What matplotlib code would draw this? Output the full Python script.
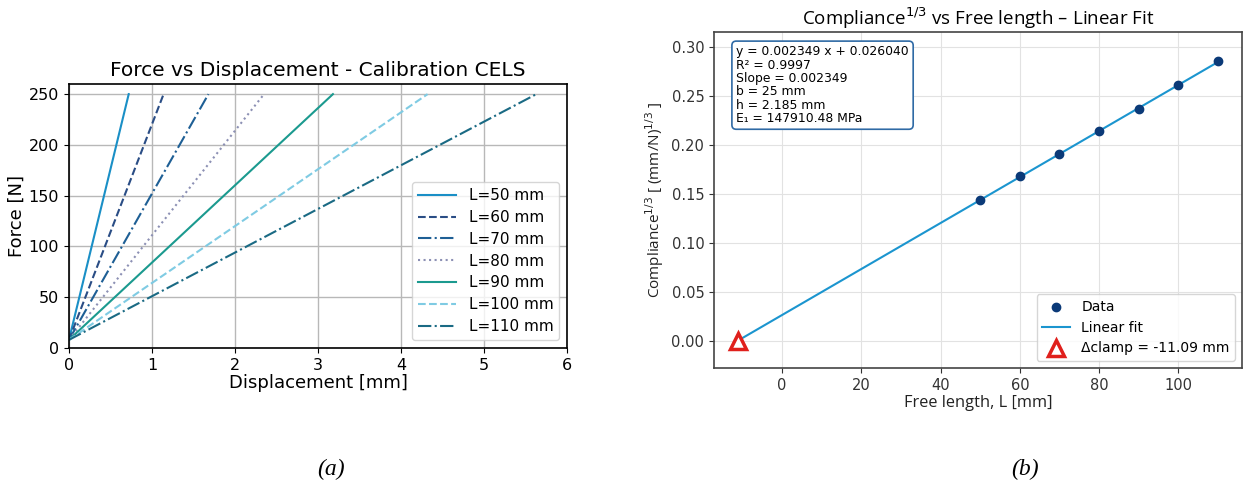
import numpy as np
import matplotlib
matplotlib.use("Agg")
import matplotlib.pyplot as plt

# --- panel (a): force vs displacement, one line per free length ---
lengths = [50, 60, 70, 80, 90, 100, 110]
disp_start = [0.0, 0.0, 0.0, 0.0, 0.0, 0.0, 0.0]
disp_end = [0.72, 1.14, 1.68, 2.35, 3.18, 4.32, 5.63]
force_start = [8, 8, 8, 8, 8, 8, 8]
force_end = [250, 250, 250, 250, 250, 250, 250]
line_colors = ['#1a8fc6', '#2a4d85', '#1e5f95', '#8c90b4', '#1b9a8f', '#7fcbe3', '#1a6a84']
line_styles = ['-', '--', '-.', ':', '-', '--', '-.']

# --- panel (b): compliance^(1/3) vs free length ---
free_length = [50, 60, 70, 80, 90, 100, 110]
compliance_cbrt = [0.1437, 0.1675, 0.1908, 0.2135, 0.2368, 0.2612, 0.2852]
fit_x = [-11.09, 110]
fit_y = [0.0, 0.2844]
clamp_x = [-11.09]
clamp_y = [0.0]
fit_text = ("y = 0.002349 x + 0.026040\n"
            "R\u00b2 = 0.9997\n"
            "Slope = 0.002349\n"
            "b = 25 mm\n"
            "h = 2.185 mm\n"
            "E\u2081 = 147910.48 MPa")

fig = plt.figure(figsize=(12.49, 4.90), dpi=100)

# Panel (a)
ax1 = fig.add_axes([0.0552, 0.2898, 0.3988, 0.5388])
for i, L in enumerate(lengths):
    ax1.plot([disp_start[i], disp_end[i]], [force_start[i], force_end[i]],
             color=line_colors[i], linestyle=line_styles[i], linewidth=1.5,
             label=f"L={L} mm")
ax1.set_xlim(0, 6)
ax1.set_ylim(0, 260)
ax1.set_xticks([0, 1, 2, 3, 4, 5, 6])
ax1.set_yticks([0, 50, 100, 150, 200, 250])
ax1.grid(True, color='#b8b8b8', linewidth=1.0)
ax1.tick_params(labelsize=11.5)
ax1.set_xlabel("Displacement [mm]", fontsize=13, labelpad=1)
ax1.set_ylabel("Force [N]", fontsize=13, labelpad=2)
ax1.set_title("Force vs Displacement - Calibration CELS", fontsize=14.5, pad=6)
for s in ax1.spines.values():
    s.set_linewidth(1.2)
ax1.legend(loc='lower right', fontsize=11, handlelength=2.5, labelspacing=0.45)

# Panel (b)
ax2 = fig.add_axes([0.5717, 0.2490, 0.4227, 0.6857])
ax2.scatter(free_length, compliance_cbrt, color='#0b3a78', s=36, zorder=3, label='Data')
ax2.plot(fit_x, fit_y, color='#1b95cf', linewidth=1.5, zorder=2, label='Linear fit')
ax2.plot(clamp_x, clamp_y, linestyle='none', marker='^', markersize=11,
         markerfacecolor='white', markeredgecolor='#e0201c', markeredgewidth=2.5,
         zorder=4, label='\u0394clamp = -11.09 mm')
ax2.set_ylim(-0.028, 0.315)
ax2.set_xticks([0, 20, 40, 60, 80, 100])
ax2.set_yticks([0.0, 0.05, 0.10, 0.15, 0.20, 0.25, 0.30])
ax2.yaxis.set_major_formatter(matplotlib.ticker.FormatStrFormatter('%.2f'))
ax2.grid(True, color='#e2e2e2', linewidth=0.8)
ax2.tick_params(labelsize=10.5, colors='#333333')
ax2.set_xlabel("Free length, L [mm]", fontsize=11.8, family='Open Sans', labelpad=2, color='#222222')
ax2.set_ylabel("Compliance$^{1/3}$ [ (mm/N)$^{1/3}$ ]", fontsize=11, family='Open Sans',
               labelpad=4, color='#222222')
ax2.set_title("Compliance$^{1/3}$ vs Free length \u2013 Linear Fit", fontsize=13.5,
              family='Open Sans', pad=5)
for s in ax2.spines.values():
    s.set_color('#444444')
    s.set_linewidth(1.2)
ax2.text(0.042, 0.96, fit_text, transform=ax2.transAxes, fontsize=8.9,
         va='top', ha='left', linespacing=1.03,
         bbox=dict(boxstyle='round,pad=0.35', facecolor='white', edgecolor='#2f6aa5', linewidth=1.2))
ax2.legend(loc='lower right', fontsize=10, labelspacing=0.5)

# captions
fig.text(0.265, 0.03, "(a)", fontsize=17, family='Liberation Serif', style='italic', ha='center')
fig.text(0.821, 0.03, "(b)", fontsize=17, family='Liberation Serif', style='italic', ha='center')

fig.savefig("out.png", dpi=100)
